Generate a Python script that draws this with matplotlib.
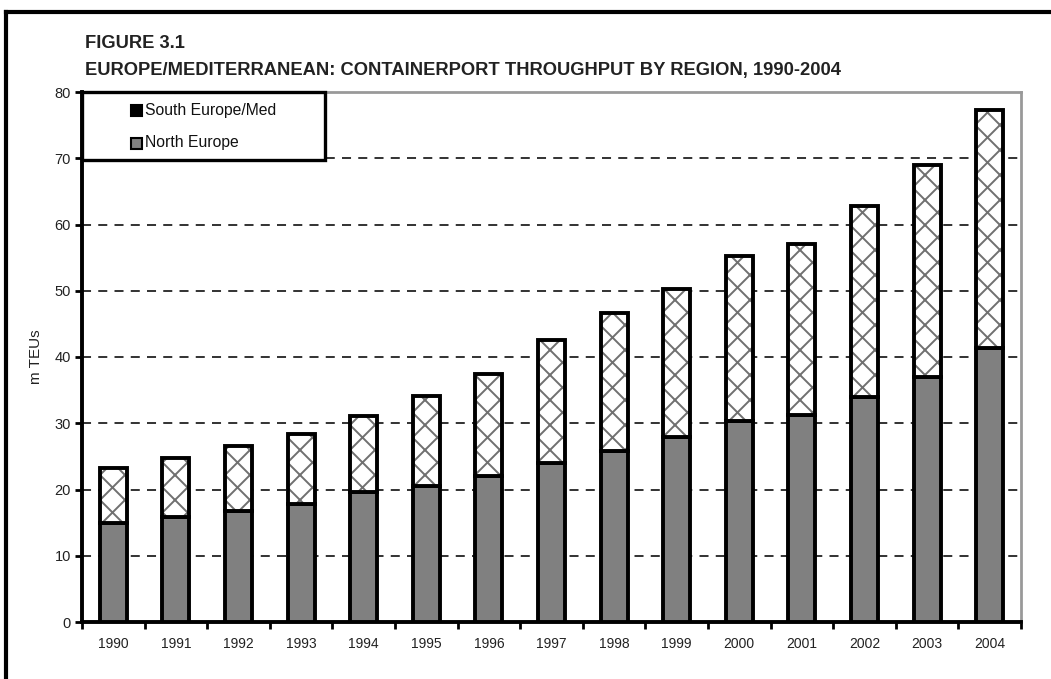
import matplotlib
matplotlib.use("Agg")
import matplotlib.pyplot as plt
from matplotlib.patches import Rectangle
from matplotlib.lines import Line2D
from matplotlib.backend_bases import GraphicsContextBase
import numpy as np

years = ["1990", "1991", "1992", "1993", "1994", "1995", "1996", "1997",
         "1998", "1999", "2000", "2001", "2002", "2003", "2004"]
north_europe = [15.0, 15.9, 16.8, 17.8, 19.6, 20.5, 22.0, 24.0,
                25.8, 28.0, 30.4, 31.3, 34.0, 37.0, 41.4]
total = [23.2, 24.8, 26.6, 28.4, 31.1, 34.1, 37.4, 42.6,
         46.6, 50.2, 55.2, 57.1, 62.8, 69.0, 77.3]
south_europe_med = [t - n for t, n in zip(total, north_europe)]

series_names = ["South Europe/Med", "North Europe"]
title_lines = ["FIGURE 3.1",
               "EUROPE/MEDITERRANEAN: CONTAINERPORT THROUGHPUT BY REGION, 1990-2004"]
y_label = "m TEUs"

# Slightly finer cross-hatch than the default spacing
_orig_hatch_path = GraphicsContextBase.get_hatch_path


def _hatch_path(self, density=8):
    return _orig_hatch_path(self, density)


GraphicsContextBase.get_hatch_path = _hatch_path

plt.rcParams["font.family"] = ["Liberation Sans", "DejaVu Sans"]
plt.rcParams["hatch.linewidth"] = 1.4

fig = plt.figure(figsize=(10.51, 6.79), dpi=100)
ax = fig.add_axes([82 / 1051, 1 - 622 / 679, (1021 - 82) / 1051, (622 - 92) / 679])

x = np.arange(len(years))
w = 0.43
# North Europe: solid grey
ax.bar(x, north_europe, width=w, color="#808080", edgecolor="black", linewidth=2.8, zorder=3)
# South Europe/Med: cross-hatched, stacked on top
ax.bar(x, south_europe_med, width=w, bottom=north_europe, color="white",
       edgecolor="#707070", hatch="x", linewidth=0, zorder=3)
ax.bar(x, south_europe_med, width=w, bottom=north_europe, fill=False,
       edgecolor="black", linewidth=2.8, zorder=4)

ax.set_xlim(-0.5, len(years) - 0.5)
ax.set_ylim(0, 80)
ax.set_yticks(np.arange(0, 81, 10))
ax.set_xticks(x)
ax.set_xticklabels(years, fontsize=10, color="#222222")
ax.set_xticks(np.arange(-0.5, len(years)), minor=True)
ax.tick_params(axis="x", which="major", length=0, pad=11)
ax.tick_params(axis="x", which="minor", length=5, width=2, direction="out")
ax.tick_params(axis="y", length=5, width=2, direction="out", labelsize=10.5, pad=3,
               labelcolor="#222222")

for v in range(10, 80, 10):
    ax.axhline(v, color="#222222", linestyle=(0, (5, 4)), linewidth=1.3, zorder=1)

for side in ("left", "bottom"):
    ax.spines[side].set_linewidth(2.8)
    ax.spines[side].set_color("black")
for side in ("top", "right"):
    ax.spines[side].set_linewidth(2)
    ax.spines[side].set_color("#999999")

ax.set_ylabel(y_label, fontsize=11, labelpad=8, color="#222222")

# Legend box
ax.add_patch(Rectangle((0, 1), (325 - 82) / 939, -(160 - 92) / 530, transform=ax.transAxes,
                       facecolor="white", edgecolor="black", linewidth=2.4, zorder=6,
                       clip_on=False))
leg_rows = [(110, "black"), (143, "#808080")]
for (py, col), name in zip(leg_rows, series_names):
    yy = 1 - (py - 92) / 530
    ax.add_patch(Rectangle(((131 - 82) / 939, yy - 5.5 / 530), 11 / 939, 11 / 530,
                           transform=ax.transAxes, facecolor=col, edgecolor="black",
                           linewidth=1.5, zorder=7, clip_on=False))
    ax.text((145 - 82) / 939, yy, name, transform=ax.transAxes, fontsize=11.3,
            va="center", ha="left", zorder=8, color="#111111")

fig.text(85 / 1051, 1 - 44 / 679, title_lines[0], fontsize=13.2, fontweight="bold",
         va="center", ha="left", color="#222222")
fig.text(85 / 1051, 1 - 71 / 679, title_lines[1], fontsize=13.2, fontweight="bold",
         va="center", ha="left", color="#222222")

# Outer frame
fig.add_artist(Line2D([6 / 1051, 1.0], [1 - 12 / 679, 1 - 12 / 679], color="black",
                      linewidth=3, transform=fig.transFigure))
fig.add_artist(Line2D([6 / 1051, 6 / 1051], [0, 1 - 12 / 679], color="black",
                      linewidth=3, transform=fig.transFigure))

fig.savefig("out.png", dpi=100, facecolor="white")
